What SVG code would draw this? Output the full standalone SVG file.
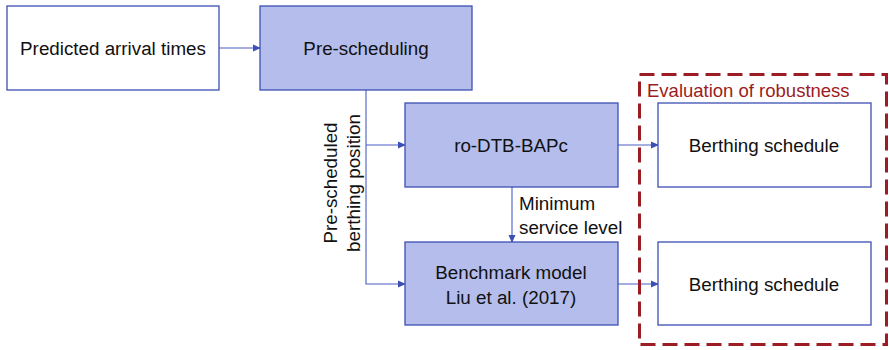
<svg xmlns="http://www.w3.org/2000/svg" width="889" height="350" viewBox="0 0 889 350">
<defs>
<style>
.box{stroke:#3d4fb3;stroke-width:1.3}
.white{fill:#ffffff}
.blue{fill:#b4bdeb}
.t{font-family:"Liberation Sans",Arial,sans-serif;font-size:18.8px;fill:#111;text-anchor:middle}
.lbl{font-family:"Liberation Sans",Arial,sans-serif;font-size:18.8px;fill:#111}
.conn{stroke:#4a5ec4;stroke-width:1.1;fill:none}
</style>
<marker id="ah" markerWidth="8" markerHeight="8" refX="7" refY="4" orient="auto" markerUnits="userSpaceOnUse">
<path d="M0,0.5 L8,4 L0,7.5 Z" fill="#3d4fb3"/>
</marker>
</defs>
<rect width="889" height="350" fill="#ffffff"/>
<g id="connectors">
<path class="conn" d="M219,48 H260" marker-end="url(#ah)"/>
<path class="conn" d="M366,90 V284 H405" marker-end="url(#ah)"/>
<path class="conn" d="M366,145 H405" marker-end="url(#ah)"/>
<path class="conn" d="M512,187 V242" marker-end="url(#ah)"/>
<path class="conn" d="M618,145 H658" marker-end="url(#ah)"/>
<path class="conn" d="M618,284 H658" marker-end="url(#ah)"/>
<text class="lbl" transform="translate(337,183) rotate(-90)" text-anchor="middle">Pre-scheduled</text>
<text class="lbl" transform="translate(360,183) rotate(-90)" text-anchor="middle">berthing position</text>
<text class="lbl" x="519" y="210">Minimum</text>
<text class="lbl" x="519" y="234">service level</text>
</g>
<g id="eval">
<rect x="639.5" y="74.5" width="247" height="270" fill="none" stroke="#9b1c22" stroke-width="3" stroke-dasharray="15,7"/>
<text x="647" y="97" font-family="Liberation Sans,Arial,sans-serif" font-size="18.5" fill="#9b1c22">Evaluation of robustness</text>
</g>
<g id="predicted">
<rect class="box white" x="7" y="6" width="212" height="84"/>
<text class="t" x="113" y="55">Predicted arrival times</text>
</g>
<g id="prescheduling">
<rect class="box blue" x="260" y="6" width="212" height="84"/>
<text class="t" x="366" y="55">Pre-scheduling</text>
</g>
<g id="rodtb">
<rect class="box blue" x="405" y="103" width="213" height="84"/>
<text class="t" x="511" y="152">ro-DTB-BAPc</text>
</g>
<g id="benchmark">
<rect class="box blue" x="405" y="242" width="213" height="83"/>
<text class="t" x="511" y="279">Benchmark model</text>
<text class="t" x="511" y="304">Liu et al. (2017)</text>
</g>
<g id="berthing1">
<rect class="box white" x="658" y="103" width="213" height="84"/>
<text class="t" x="764" y="152">Berthing schedule</text>
</g>
<g id="berthing2">
<rect class="box white" x="658" y="242" width="213" height="83"/>
<text class="t" x="764" y="291">Berthing schedule</text>
</g>
</svg>
